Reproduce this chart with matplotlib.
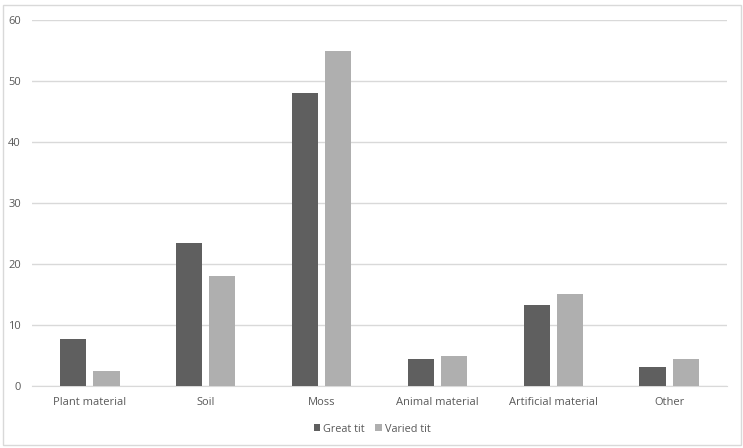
import matplotlib.pyplot as plt
import numpy as np
from matplotlib.patches import Rectangle

# data
categories = ["Plant material", "Soil", "Moss", "Animal material", "Artificial material", "Other"]
great_tit = [7.7, 23.4, 48, 4.4, 13.3, 3.1]
varied_tit = [2.5, 18, 55, 4.9, 15.1, 4.4]

dark = "#5f5f5f"
light = "#afafaf"
txt = "#595959"

plt.rcParams["font.family"] = ["Open Sans", "DejaVu Sans"]

fig = plt.figure(figsize=(7.43, 4.48), dpi=100)
ax = fig.add_axes([32 / 743, 1 - 386 / 448, 695 / 743, 366 / 448])

x = np.arange(len(categories))
w = 0.225
off = 0.143
ax.bar(x - off, great_tit, w, color=dark, label="Great tit", zorder=3)
ax.bar(x + off, varied_tit, w, color=light, label="Varied tit", zorder=3)

ax.set_xlim(-0.5, len(categories) - 0.5)
ax.set_ylim(0, 60)
ax.set_yticks(range(0, 61, 10))
ax.yaxis.grid(True, color="#d9d9d9", linewidth=1)
ax.set_axisbelow(True)
for s in ["top", "right", "left"]:
    ax.spines[s].set_visible(False)
ax.spines["bottom"].set_color("#d9d9d9")
ax.tick_params(axis="both", length=0, colors=txt, labelsize=8)
ax.tick_params(axis="y", pad=8)
ax.tick_params(axis="x", pad=8)
ax.set_xticks(x)
ax.set_xticklabels(categories)

ax.legend(loc="center", bbox_to_anchor=(372 / 743, 1 - 429 / 448), bbox_transform=fig.transFigure,
          ncol=2, frameon=False, fontsize=7.8, handlelength=0.6, handleheight=0.6,
          handletextpad=0.25, columnspacing=1.0, labelcolor=txt)

# outer chart border
fig.patches.append(Rectangle((3 / 743, 3 / 448), 738 / 743, 440 / 448, transform=fig.transFigure,
                             fill=False, edgecolor="#d9d9d9", linewidth=1))

fig.savefig("out.png", dpi=100)
